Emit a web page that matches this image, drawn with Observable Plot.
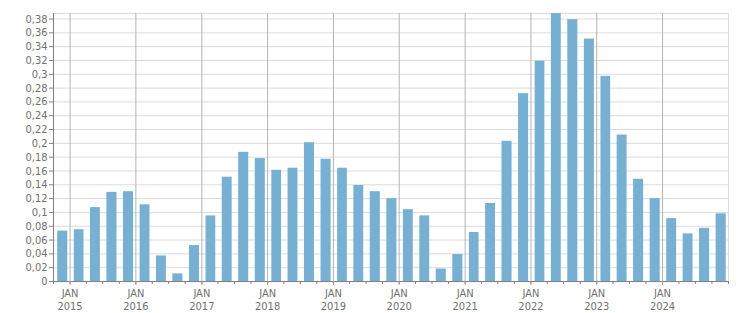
<!DOCTYPE html>
<html>
<head>
<meta charset="utf-8">
<script src="https://cdn.jsdelivr.net/npm/d3@7"></script>
<script src="https://cdn.jsdelivr.net/npm/@observablehq/plot@0.6"></script>
<style>
  html, body { margin: 0; padding: 0; background: #fff; }
</style>
</head>
<body>
<div id="chart"></div>
<script>
const quarterStarts = [
  "2014-10-01",
  "2015-01-01","2015-04-01","2015-07-01","2015-10-01",
  "2016-01-01","2016-04-01","2016-07-01","2016-10-01",
  "2017-01-01","2017-04-01","2017-07-01","2017-10-01",
  "2018-01-01","2018-04-01","2018-07-01","2018-10-01",
  "2019-01-01","2019-04-01","2019-07-01","2019-10-01",
  "2020-01-01","2020-04-01","2020-07-01","2020-10-01",
  "2021-01-01","2021-04-01","2021-07-01","2021-10-01",
  "2022-01-01","2022-04-01","2022-07-01","2022-10-01",
  "2023-01-01","2023-04-01","2023-07-01","2023-10-01",
  "2024-01-01","2024-04-01","2024-07-01","2024-10-01"
];
const values = [
  0.073,
  0.075, 0.107, 0.129, 0.130,
  0.111, 0.037, 0.011, 0.052,
  0.095, 0.151, 0.187, 0.178,
  0.161, 0.164, 0.201, 0.177,
  0.164, 0.139, 0.130, 0.120,
  0.104, 0.095, 0.018, 0.039,
  0.071, 0.113, 0.203, 0.272,
  0.319, 0.388, 0.379, 0.351,
  0.297, 0.212, 0.148, 0.120,
  0.091, 0.069, 0.077, 0.098
];
const yTicks = [0,0.02,0.04,0.06,0.08,0.1,0.12,0.14,0.16,0.18,0.2,0.22,0.24,0.26,0.28,0.3,0.32,0.34,0.36,0.38];
const yearLabels = ["2015","2016","2017","2018","2019","2020","2021","2022","2023","2024"];
const monthLabel = "JAN";

const parse = d3.utcParse("%Y-%m-%d");
const table = quarterStarts.map((s, i) => {
  const start = parse(s);
  return {start, end: d3.utcMonth.offset(start, 3), value: values[i]};
});
const janTicks = yearLabels.map(y => parse(`${y}-01-01`));
const quarterTicks = d3.utcMonth.every(3).range(parse("2014-10-01"), parse("2025-01-02"));
const xDomain = [parse("2014-10-01"), parse("2025-01-01")];
const fmtY = d => String(+d.toFixed(2)).replace(".", ",");

const chart = Plot.plot({
  width: 751,
  height: 313,
  marginLeft: 53,
  marginRight: 23,
  marginTop: 13,
  marginBottom: 32,
  style: {fontFamily: "'DejaVu Sans Condensed', 'Liberation Sans', sans-serif", fontSize: "11px", background: "#fff"},
  x: {type: "utc", domain: xDomain},
  y: {domain: [0, 0.388]},
  marks: [
    Plot.gridY(yTicks, {stroke: "#dcdcdc", strokeOpacity: 1}),
    Plot.frame({stroke: "#dcdcdc"}),
    Plot.gridX(janTicks, {stroke: "#b4b4b4", strokeOpacity: 1}),
    Plot.rectY(table, {x1: "start", x2: "end", y: "value", fill: "#78b0d4", insetLeft: 4.2, insetRight: 2.3}),
    Plot.axisY({ticks: yTicks, tickFormat: fmtY, tickSize: 4, tickPadding: 2, stroke: "#808080", fill: "#707070", label: null}),
    Plot.ruleX([xDomain[0]], {stroke: "#808080"}),
    Plot.ruleY([0], {stroke: "#808080"}),
    Plot.axisX({ticks: quarterTicks, tickSize: 3, tickFormat: () => "", stroke: "#808080", label: null}),
    Plot.axisX({ticks: janTicks, tickSize: 4, tickPadding: 3, stroke: "#a0a0a0", fill: "#707070", lineHeight: 1.12,
      tickFormat: d => `${monthLabel}\n${d.getUTCFullYear()}`, label: null})
  ]
});
document.getElementById("chart").appendChild(chart);
</script>
</body>
</html>
